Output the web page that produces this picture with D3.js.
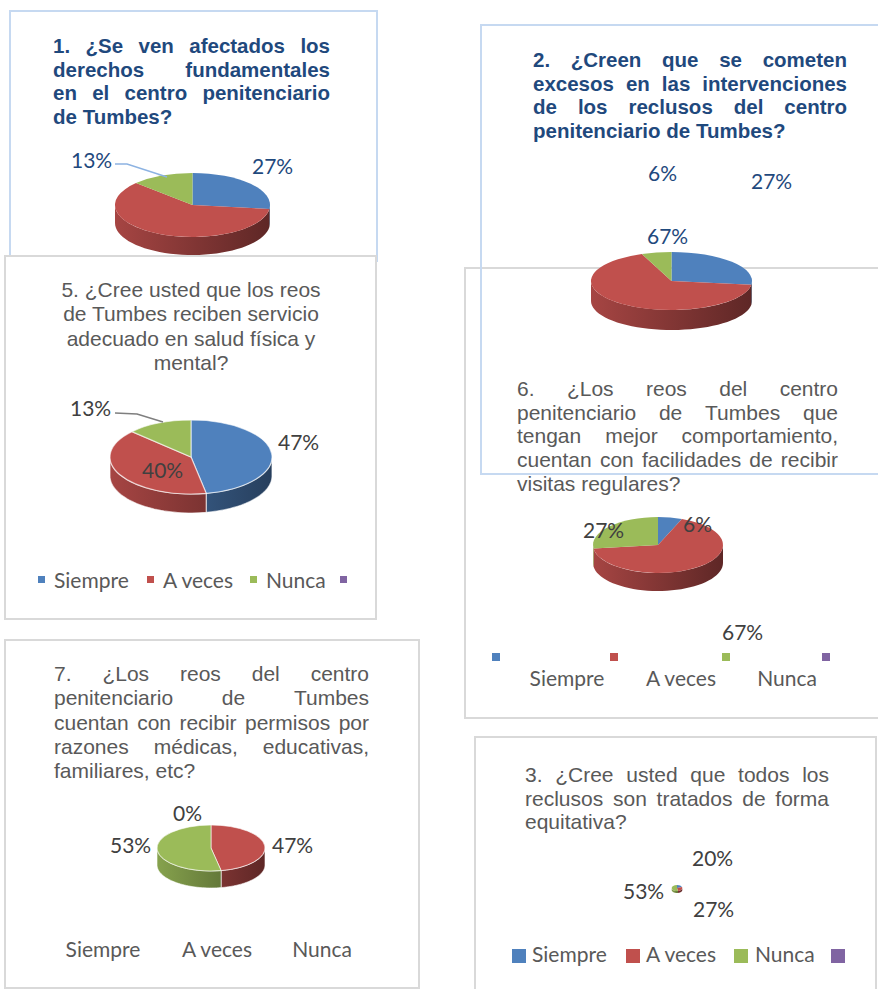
<!DOCTYPE html>
<html>
<head>
<meta charset="utf-8">
<script src="https://cdn.jsdelivr.net/npm/d3@7"></script>
<style>
  body { margin: 0; background: #fff; }
  svg { display: block; }
</style>
</head>
<body>
<div id="container"></div>
<script>
/* DATA */
const categories = ["Siempre", "A veces", "Nunca", ""];
const colors = ["#4f81bd", "#c0504d", "#9bbb59", "#8064a2"];

// percentages per question, in category order (Siempre, A veces, Nunca)
const q1Values = [27, 60, 13];
const q2Values = [27, 67, 6];
const q3Values = [20, 27, 53];
const q5Values = [47, 40, 13];
const q6Values = [6, 67, 27];
const q7Values = [0, 47, 53];

const q1Title = ["1. ¿Se ven afectados los", "derechos fundamentales", "en el centro penitenciario", "de Tumbes?"];
const q2Title = ["2. ¿Creen que se cometen", "excesos en las intervenciones", "de los reclusos del centro", "penitenciario de Tumbes?"];
const q3Title = ["3. ¿Cree usted que todos los", "reclusos son tratados de forma", "equitativa?"];
const q5Title = ["5. ¿Cree usted que los reos", "de Tumbes reciben servicio", "adecuado en salud física y", "mental?"];
const q6Title = ["6. ¿Los reos del centro", "penitenciario de Tumbes que", "tengan mejor comportamiento,", "cuentan con facilidades de recibir", "visitas regulares?"];
const q7Title = ["7. ¿Los reos del centro", "penitenciario de Tumbes", "cuentan con recibir permisos por", "razones médicas, educativas,", "familiares, etc?"];

/* CONSTANTS AND GLOBALS */
const width = 878, height = 989;
const titleFont = "'Liberation Sans', Arial, sans-serif";
const labelFont = "Lato, 'Open Sans', sans-serif";
const navy = "#1f497d", grey = "#595959", dark = "#404040";
const blueEdge = "#c6d9f1", greyEdge = "#d9d9d9";

const svg = d3.select("#container").append("svg")
  .attr("width", width)
  .attr("height", height);
const defs = svg.append("defs");

defs.append("clipPath").attr("id", "clip2")
  .append("rect").attr("x", 0).attr("y", 0).attr("width", width).attr("height", 330);

// box outline
function box(x, y, w, h, stroke, fill) {
  svg.append("rect")
    .attr("x", x).attr("y", y).attr("width", w).attr("height", h)
    .attr("fill", fill || "none")
    .attr("stroke", stroke)
    .attr("stroke-width", 2);
}

// title text, justified / centered like the word processor did it
function title(lines, o) {
  const g = svg.append("g");
  lines.forEach((line, li) => {
    const y = o.y + li * o.lh;
    const t = g.append("text")
      .attr("font-family", titleFont)
      .attr("font-size", o.size)
      .attr("font-weight", o.bold ? "bold" : "normal")
      .attr("fill", o.color);
    if (o.align === "center") {
      t.attr("x", o.cx).attr("y", y).attr("text-anchor", "middle").text(line);
      return;
    }
    const words = line.split(" ");
    const spans = words.map(w => t.append("tspan").attr("y", y).text(w));
    const widths = spans.map(s => s.node().getComputedTextLength());
    const justify = li < o.justified && words.length > 1;
    const gap = justify ? (o.x1 - o.x0 - d3.sum(widths)) / (words.length - 1) : o.size * 0.278;
    let x = o.x0;
    spans.forEach((s, i) => { s.attr("x", x); x += widths[i] + gap; });
  });
}

// oblique 3D pie: sides first, then the top face
function pie3d(values, p, id, clip) {
  const g = svg.append("g");
  if (clip) g.attr("clip-path", `url(#${clip})`);
  const arcs = d3.pie().sort(null).value(d => d)(values);
  const pt = (a, dy) => [p.cx + p.rx * Math.sin(a), p.cy - p.ry * Math.cos(a) + dy];

  colors.forEach((c, i) => {
    const grad = defs.append("linearGradient")
      .attr("id", `side-${id}-${i}`)
      .attr("gradientUnits", "userSpaceOnUse")
      .attr("x1", p.cx - p.rx).attr("x2", p.cx + p.rx)
      .attr("y1", 0).attr("y2", 0);
    grad.append("stop").attr("offset", 0).attr("stop-color", d3.color(c).darker(0.4));
    grad.append("stop").attr("offset", 1).attr("stop-color", d3.color(c).darker(2));
  });

  const line = d3.line();
  arcs.forEach((a, i) => {
    const a0 = Math.max(a.startAngle, Math.PI / 2);
    const a1 = Math.min(a.endAngle, Math.PI * 1.5);
    if (a1 <= a0) return;
    const steps = d3.range(41).map(j => a0 + (a1 - a0) * j / 40);
    const top = steps.map(s => pt(s, 0));
    const bottom = steps.slice().reverse().map(s => pt(s, p.depth));
    g.append("path")
      .attr("d", line(top.concat(bottom)) + "Z")
      .attr("fill", `url(#side-${id}-${i})`)
      .attr("stroke", "#fff")
      .attr("stroke-opacity", 0.6)
      .attr("stroke-width", p.edge);
  });

  const arc = d3.arc().innerRadius(0).outerRadius(p.rx);
  g.append("g")
    .attr("transform", `translate(${p.cx},${p.cy}) scale(1,${p.ry / p.rx})`)
    .selectAll("path")
    .data(arcs.filter(a => a.value > 0))
    .join("path")
    .attr("d", arc)
    .attr("fill", (d, i) => colors[arcs.indexOf(d)])
    .attr("stroke", "#fff")
    .attr("stroke-opacity", 0.6)
    .attr("stroke-width", p.edge)
    .attr("vector-effect", "non-scaling-stroke");
}

function labels(values, list, color) {
  list.forEach(([i, x, y]) => {
    svg.append("text")
      .attr("x", x).attr("y", y)
      .attr("font-family", labelFont)
      .attr("font-size", 21)
      .attr("fill", color)
      .text(values[i] + "%");
  });
}

function leader(pts, color) {
  svg.append("path")
    .attr("d", d3.line()(pts))
    .attr("fill", "none")
    .attr("stroke", color)
    .attr("stroke-width", 1.5);
}

// legend: squares and names, either in a row or squares above centred names
function legend(o) {
  (o.squares || []).forEach((x, i) => {
    svg.append("rect")
      .attr("x", x).attr("y", o.sy)
      .attr("width", o.size).attr("height", o.size)
      .attr("fill", colors[i]);
  });
  o.texts.forEach((x, i) => {
    svg.append("text")
      .attr("x", x).attr("y", o.ty)
      .attr("text-anchor", o.anchor || "start")
      .attr("font-family", labelFont)
      .attr("font-size", 21)
      .attr("fill", grey)
      .text(categories[i]);
  });
}

/* PANEL 1 */
box(10, 11, 367, 250, blueEdge, "#fff");
title(q1Title, { x0: 53, x1: 330, y: 53, lh: 23.5, size: 20.5, bold: true, color: navy, justified: 3 });
pie3d(q1Values, { cx: 192.5, cy: 205, rx: 77.5, ry: 32, depth: 18, edge: 0 }, "p1");
leader([[115, 164], [127, 164], [167, 177]], "#8db3e2");
labels(q1Values, [[0, 252, 174], [2, 71, 168]], navy);

/* PANEL 5 */
box(5, 256, 371, 363, greyEdge, "#fff");
title(q5Title, { align: "center", cx: 191, y: 297, lh: 24.3, size: 21, color: grey });
pie3d(q5Values, { cx: 191, cy: 457, rx: 81, ry: 37, depth: 19, edge: 1.2 }, "p5");
leader([[115, 413], [137, 414], [163, 422]], "#7f7f7f");
labels(q5Values, [[0, 278, 450], [1, 142, 478], [2, 70, 416]], dark);
legend({ squares: [38, 147, 250, 340], size: 7, sy: 576, texts: [54, 163, 266], ty: 588 });

/* PANEL 6 (frame) + PANEL 2 */
box(465, 268, 430, 450, greyEdge);
box(481, 25, 420, 449, blueEdge);
title(q2Title, { x0: 533, x1: 847, y: 67, lh: 23.6, size: 20.5, bold: true, color: navy, justified: 3 });
labels(q2Values, [[2, 648, 181], [0, 751, 189], [1, 647, 244]], navy);
pie3d(q2Values, { cx: 671.5, cy: 281, rx: 80.5, ry: 29, depth: 20, edge: 0 }, "p2", "clip2");

/* PANEL 6 contents */
title(q6Title, { x0: 517, x1: 838, y: 396, lh: 23.7, size: 21, color: grey, justified: 4 });
pie3d(q6Values, { cx: 658, cy: 545, rx: 65, ry: 28, depth: 18, edge: 0 }, "p6");
labels(q6Values, [[1, 722, 640], [2, 583, 538], [0, 683, 532]], dark);
legend({ squares: [492, 610, 722, 822], size: 8, sy: 653, texts: [567, 681, 787], ty: 686, anchor: "middle" });

/* PANEL 7 */
box(5, 640, 414, 348, greyEdge, "#fff");
title(q7Title, { x0: 54, x1: 369, y: 681, lh: 24.25, size: 21, color: grey, justified: 4 });
pie3d(q7Values, { cx: 211, cy: 848, rx: 54, ry: 23, depth: 17, edge: 1 }, "p7");
labels(q7Values, [[0, 173, 821], [2, 110, 853], [1, 272, 853]], dark);
legend({ texts: [103, 217, 322], ty: 957, anchor: "middle" });

/* PANEL 3 */
box(475, 737, 401, 270, greyEdge, "#fff");
title(q3Title, { x0: 525, x1: 829, y: 782, lh: 23.5, size: 21, color: grey, justified: 2 });
pie3d(q3Values, { cx: 677, cy: 888, rx: 5.3, ry: 3, depth: 2, edge: 0 }, "p3");
labels(q3Values, [[0, 692, 866], [2, 623, 899], [1, 693, 917]], dark);
legend({ squares: [512, 626, 734, 831], size: 14, sy: 949, texts: [532, 646, 755], ty: 962 });
</script>
</body>
</html>
